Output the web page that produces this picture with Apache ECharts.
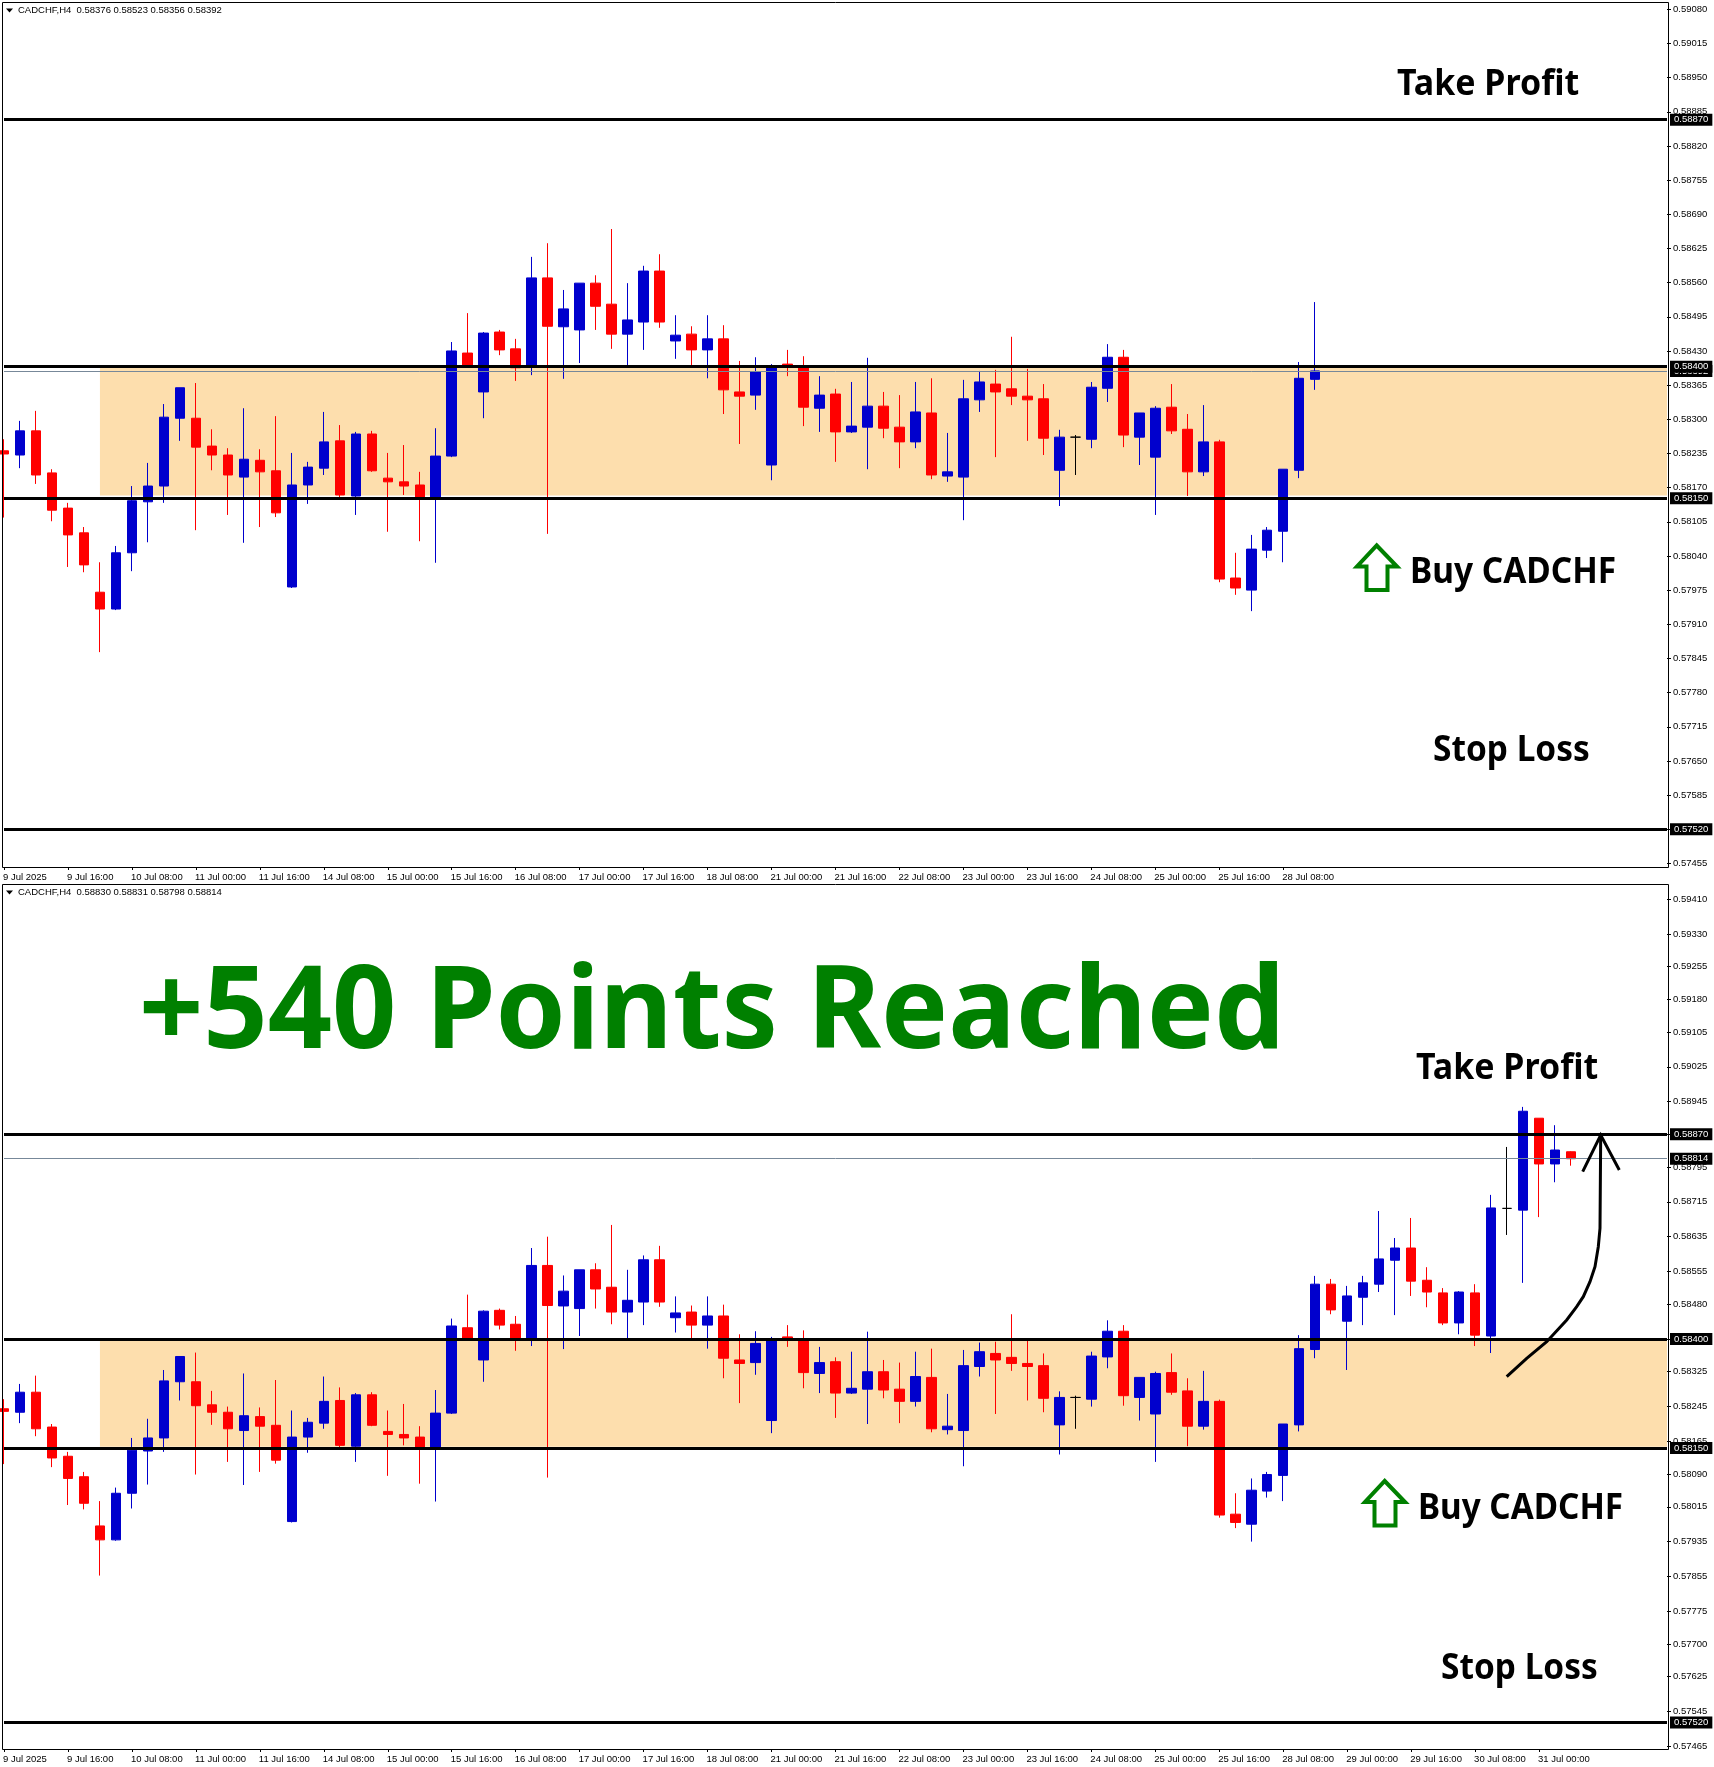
<!DOCTYPE html>
<html>
<head>
<meta charset="utf-8">
<title>CADCHF</title>
<style>
html, body { margin: 0; padding: 0; background: #fff; }
#main { width: 1714px; height: 1767px; }
</style>
<script src="https://cdn.jsdelivr.net/npm/echarts@6/dist/echarts.min.js"></script>
</head>
<body>
<div id="main"></div>
<script>
// all prices are in points (1e-5), the axes format them back to 0.xxxxx
var opens = [58240,58232,58278,58198,58131,58084,57971,57939,58046,58143,58173,58302,58302,58249,58232,58190,58222,58202,57981,58175,58207,58259,58154,58272,58188,58181,58175,58150,58230,58426,58352,58466,58434,58401,58569,58476,58470,58559,58519,58462,58485,58582,58449,58462,58432,58453,58352,58346,58213,58405,58399,58321,58348,58276,58285,58325,58285,58257,58312,58192,58190,58337,58367,58358,58344,58339,58203,58266,58262,58359,58418,58266,58228,58323,58281,58200,58257,57998,57975,58051,58087,58203,58376,58526,58441,58496,58526,58581,58609,58535,58506,58437,58506,58407,58700,58696,58907,58802,58830];
var closes = [58234,58278,58194,58127,58080,58023,57939,58046,58145,58173,58304,58360,58247,58232,58194,58224,58200,58122,58175,58209,58257,58156,58272,58202,58181,58173,58151,58230,58430,58400,58464,58432,58398,58569,58477,58510,58559,58515,58462,58489,58582,58485,58460,58432,58453,58356,58344,58390,58398,58399,58323,58346,58276,58287,58325,58283,58257,58314,58194,58200,58339,58371,58352,58344,58337,58264,58266,58266,58361,58418,58270,58312,58321,58278,58200,58257,57996,57979,58053,58089,58205,58378,58526,58467,58499,58529,58584,58609,58533,58508,58437,58508,58409,58701,58700,58923,58802,58834,58814];
var lows = [58113,58207,58177,58106,58019,58009,57857,57937,58011,58066,58141,58259,58089,58203,58118,58065,58095,58114,57979,58139,58194,58152,58118,58200,58086,58156,58068,58027,58228,58400,58302,58422,58373,58384,58082,58377,58407,58470,58434,58401,58432,58474,58415,58401,58378,58310,58253,58318,58184,58382,58287,58276,58219,58274,58205,58264,58207,58245,58186,58181,58108,58314,58228,58327,58259,58232,58135,58194,58245,58333,58247,58213,58118,58272,58154,58192,57990,57966,57935,58036,58028,58188,58356,58457,58329,58432,58508,58455,58499,58473,58432,58411,58384,58368,58639,58529,58680,58760,58798];
var highs = [58262,58297,58316,58205,58141,58095,58028,58059,58173,58217,58329,58360,58369,58281,58245,58321,58243,58306,58236,58219,58314,58289,58276,58278,58236,58251,58200,58283,58447,58502,58466,58470,58453,58609,58635,58546,58559,58574,58662,58559,58592,58614,58498,58477,58498,58479,58411,58418,58405,58432,58420,58382,58358,58371,58417,58352,58346,58371,58378,58274,58375,58392,58394,58457,58396,58367,58280,58270,58371,58443,58432,58312,58325,58367,58310,58327,58261,58046,58080,58095,58205,58409,58545,58538,58522,58545,58694,58632,58678,58565,58517,58510,58526,58731,58841,58933,58907,58891,58831];
// the upper snapshot stops at bar 82, which was still forming
var topLastBar = [58376, 58392, 58356, 58523];

var dateLabels = ['9 Jul 2025','9 Jul 16:00','10 Jul 08:00','11 Jul 00:00','11 Jul 16:00','14 Jul 08:00','15 Jul 00:00','15 Jul 16:00','16 Jul 08:00','17 Jul 00:00','17 Jul 16:00','18 Jul 08:00','21 Jul 00:00','21 Jul 16:00','22 Jul 08:00','23 Jul 00:00','23 Jul 16:00','24 Jul 08:00','25 Jul 00:00','25 Jul 16:00','28 Jul 08:00','29 Jul 00:00','29 Jul 16:00','30 Jul 08:00','31 Jul 00:00'];
var topTicks = [59080,59015,58950,58885,58820,58755,58690,58625,58560,58495,58430,58365,58300,58235,58170,58105,58040,57975,57910,57845,57780,57715,57650,57585,57520,57455];
var bottomTicks = [59410,59330,59255,59180,59105,59025,58945,58870,58795,58715,58635,58555,58480,58400,58325,58245,58165,58090,58015,57935,57855,57775,57700,57625,57545,57465];

var topLevels = [58870, 58400, 58150, 57520];
var bottomLevels = [58870, 58400, 58150, 57520];
var topBid = 58392;
var bottomBid = 58814;
var zoneFrom = 6;

var BLUE = '#0000CD', RED = '#FF0000', ZONE = '#FDDEAD', GREEN = '#008000';
var TICK_FONT = '"Liberation Sans", Arial, sans-serif';
var TICK_SIZE = 9.5;
var NOTE_FONT = '"Noto Sans", sans-serif';

var chart = echarts.init(document.getElementById('main'), null, { renderer: 'canvas' });

function bars(n) {
    var out = [];
    for (var i = 0; i < n; i++) {
        out.push([opens[i], closes[i], lows[i], highs[i]]);
    }
    return out;
}

function categories(labelCount) {
    var out = [];
    for (var i = 0; i < 105; i++) {
        out.push(i % 4 === 0 && i / 4 < labelCount ? dateLabels[i / 4] : '');
    }
    return out;
}

function fmt(v) {
    return (v / 100000).toFixed(5);
}

function priceLine(price, color, width) {
    return {
        yAxis: price,
        lineStyle: { color: color, width: width, type: 'solid' },
        label: {
            show: true,
            position: 'end',
            distance: 3,
            formatter: fmt(price),
            color: '#fff',
            backgroundColor: '#000',
            fontFamily: TICK_FONT,
            fontSize: TICK_SIZE,
            padding: [1, 4, 1, 4]
        }
    };
}

function panelSeries(gridIndex, data, levels, bid, zoneLow) {
    return {
        type: 'candlestick',
        xAxisIndex: gridIndex,
        yAxisIndex: gridIndex,
        barWidth: 10,
        data: data,
        itemStyle: {
            color: BLUE,
            color0: RED,
            borderColor: BLUE,
            borderColor0: RED,
            borderColorDoji: '#000',
            borderWidth: 1
        },
        markArea: {
            silent: true,
            itemStyle: { color: ZONE },
            data: [[{ xAxis: zoneFrom, yAxis: levels[1] }, { xAxis: 104, yAxis: zoneLow }]]
        },
        markLine: {
            silent: true,
            symbol: 'none',
            animation: false,
            data: [
                priceLine(bid, '#778899', 1),
                priceLine(levels[0], '#000', 3),
                priceLine(levels[1], '#000', 3),
                priceLine(levels[2], '#000', 3),
                priceLine(levels[3], '#000', 3)
            ]
        }
    };
}

function xAxisFor(gridIndex, labelCount) {
    return {
        type: 'category',
        gridIndex: gridIndex,
        boundaryGap: false,
        data: categories(labelCount),
        axisLine: { show: false },
        axisTick: {
            length: 3,
            interval: function (i, v) { return v !== ''; },
            lineStyle: { color: '#000' }
        },
        axisLabel: {
            interval: function (i, v) { return v !== ''; },
            align: 'left',
            margin: 5,
            padding: [0, 0, 0, -1],
            color: '#000',
            fontFamily: TICK_FONT,
            fontSize: TICK_SIZE
        },
        splitLine: { show: false }
    };
}

function yAxisFor(gridIndex, min, max, ticks) {
    return {
        type: 'value',
        gridIndex: gridIndex,
        position: 'right',
        min: min,
        max: max,
        axisLine: { show: false },
        axisTick: { show: true, length: 4, customValues: ticks, lineStyle: { color: '#000' } },
        axisLabel: {
            customValues: ticks,
            formatter: fmt,
            margin: 6,
            color: '#000',
            fontFamily: TICK_FONT,
            fontSize: TICK_SIZE
        },
        splitLine: { show: false }
    };
}

// the annotation font in the picture is narrower than Noto Sans, hence scaleX
function note(text, x, y, size, color, squeeze) {
    return {
        type: 'text',
        z: 100,
        silent: true,
        x: x,
        y: y,
        scaleX: squeeze,
        style: {
            text: text,
            x: 0,
            y: 0,
            fill: color,
            font: 'bold ' + size + 'px ' + NOTE_FONT,
            align: 'left',
            verticalAlign: 'bottom'
        }
    };
}

function header(text, y) {
    return [
        { type: 'polygon', z: 100, silent: true, shape: { points: [[6, y - 2], [13, y - 2], [9.5, y + 2]] }, style: { fill: '#000' } },
        { type: 'text', z: 100, silent: true, style: { text: text, x: 18, y: y, fill: '#000', font: TICK_SIZE + 'px ' + TICK_FONT, align: 'left', verticalAlign: 'middle' } }
    ];
}

function frame(x1, y1, x2, y2) {
    return {
        type: 'rect', z: 100, silent: true,
        shape: { x: x1, y: y1, width: x2 - x1, height: y2 - y1 },
        style: { fill: 'none', stroke: '#000', lineWidth: 1 }
    };
}

function upArrow(dx, dy) {
    var pts = [[1376.7, 545.5], [1397, 566.5], [1387.5, 566.5], [1387.5, 590], [1366.5, 590], [1366.5, 566.5], [1357, 566.5]];
    return {
        type: 'polygon', z: 100, silent: true,
        shape: { points: pts.map(function (p) { return [p[0] + dx, p[1] + dy]; }) },
        style: { fill: 'none', stroke: GREEN, lineWidth: 4 }
    };
}

// hand drawn arrow on the lower chart
var curve = [[1506.7,1376.7],[1526.7,1358.3],[1546.7,1341.7],[1566.7,1320],[1576.7,1306.7],[1583.3,1296.7],[1590,1281.7],[1595,1266.7],[1598.3,1246.7],[1600,1228.3],[1600.7,1135]];
var arrowHead = [[1582.7,1171.7],[1600.7,1135],[1619.3,1170]];

var graphics = [
    frame(2.5, 2.5, 1668.5, 867.5),
    frame(2.5, 884.5, 1668.5, 1749.5),
    note('Take Profit', 1397, 103, 35, '#000', 0.97),
    note('Buy CADCHF', 1410, 591, 35, '#000', 0.955),
    note('Stop Loss', 1433, 769, 35, '#000', 0.955),
    upArrow(0, 0),
    note('+540 Points Reached', 139, 1073, 114, GREEN, 0.987),
    note('Take Profit', 1416, 1087, 35, '#000', 0.97),
    note('Buy CADCHF', 1418, 1527, 35, '#000', 0.95),
    note('Stop Loss', 1441, 1687, 35, '#000', 0.955),
    upArrow(8, 935.5),
    { type: 'polyline', z: 100, silent: true, shape: { points: curve }, style: { stroke: '#000', lineWidth: 3, fill: 'none' } },
    { type: 'polyline', z: 100, silent: true, shape: { points: arrowHead }, style: { stroke: '#000', lineWidth: 3, fill: 'none' } }
].concat(header('CADCHF,H4  0.58376 0.58523 0.58356 0.58392', 10.5))
 .concat(header('CADCHF,H4  0.58830 0.58831 0.58798 0.58814', 892.5));

var topData = bars(82);
topData.push(topLastBar);

option = {
    animation: false,
    backgroundColor: '#fff',
    grid: [
        { left: 3, top: 2, width: 1664, height: 865 },
        { left: 3, top: 884, width: 1664, height: 865 }
    ],
    xAxis: [xAxisFor(0, 21), xAxisFor(1, 25)],
    yAxis: [
        yAxisFor(0, 57448.2, 59093.9, topTicks),
        yAxisFor(1, 57458.9, 59444.7, bottomTicks)
    ],
    series: [
        panelSeries(0, topData, topLevels, topBid, 58155),
        panelSeries(1, bars(99), bottomLevels, bottomBid, 58153)
    ],
    graphic: { elements: graphics }
};

chart.setOption(option);
</script>
</body>
</html>
